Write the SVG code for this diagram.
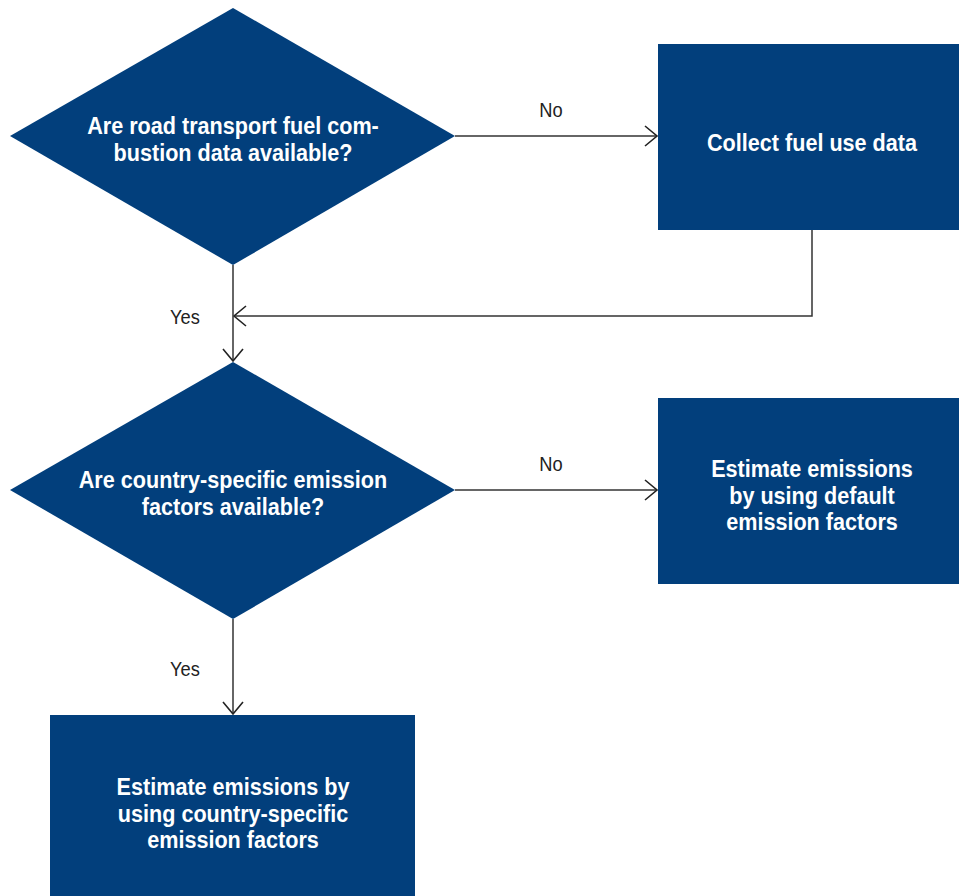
<svg xmlns="http://www.w3.org/2000/svg" width="959" height="896" viewBox="0 0 959 896">
<style>
.shape{fill:#023f7c}
.t{font-family:"Liberation Sans",Arial,sans-serif;font-weight:bold;font-size:24px;fill:#fff;text-anchor:middle}
.lbl{font-family:"Liberation Sans",Arial,sans-serif;font-size:21px;fill:#222;text-anchor:middle}
.c{fill:none;stroke:#333;stroke-width:1.5}
</style>
<defs>
<marker id="arr" markerUnits="userSpaceOnUse" markerWidth="20" markerHeight="24" refX="14" refY="12" orient="auto" viewBox="0 0 20 24">
<path d="M2,2 L14,12 L2,22" fill="none" stroke="#222" stroke-width="1.6"/>
</marker>
</defs>
<rect width="959" height="896" fill="#fff"/>
<g id="connectors">
<line class="c" x1="455" y1="136" x2="657" y2="136" marker-end="url(#arr)"/>
<polyline class="c" points="812,230 812,316 234,316" marker-end="url(#arr)"/>
<line class="c" x1="233" y1="265" x2="233" y2="361" marker-end="url(#arr)"/>
<line class="c" x1="455" y1="490" x2="657" y2="490" marker-end="url(#arr)"/>
<line class="c" x1="233" y1="619" x2="233" y2="714" marker-end="url(#arr)"/>
<text class="lbl" transform="translate(551,117) scale(0.87,1)">No</text>
<text class="lbl" transform="translate(185,324) scale(0.87,1)">Yes</text>
<text class="lbl" transform="translate(551,471) scale(0.87,1)">No</text>
<text class="lbl" transform="translate(185,676) scale(0.87,1)">Yes</text>
</g>
<g id="d1">
<polygon class="shape" points="233,8 455,136 233,265 10,136"/>
<text class="t" transform="translate(233,134) scale(0.9,1)">Are road transport fuel com-</text>
<text class="t" transform="translate(233,161) scale(0.9,1)">bustion data available?</text>
</g>
<g id="b1">
<rect class="shape" x="658" y="44" width="301" height="186"/>
<text class="t" transform="translate(812,151) scale(0.9,1)">Collect fuel use data</text>
</g>
<g id="d2">
<polygon class="shape" points="233,362 455,490 233,619 10,490"/>
<text class="t" transform="translate(233,488) scale(0.9,1)">Are country-specific emission</text>
<text class="t" transform="translate(233,515) scale(0.9,1)">factors available?</text>
</g>
<g id="b2">
<rect class="shape" x="658" y="398" width="301" height="186"/>
<text class="t" transform="translate(812,477) scale(0.9,1)">Estimate emissions</text>
<text class="t" transform="translate(812,504) scale(0.9,1)">by using default</text>
<text class="t" transform="translate(812,530) scale(0.9,1)">emission factors</text>
</g>
<g id="b3">
<rect class="shape" x="50" y="715" width="365" height="181"/>
<text class="t" transform="translate(233,795) scale(0.9,1)">Estimate emissions by</text>
<text class="t" transform="translate(233,822) scale(0.9,1)">using country-specific</text>
<text class="t" transform="translate(233,848) scale(0.9,1)">emission factors</text>
</g>
</svg>
